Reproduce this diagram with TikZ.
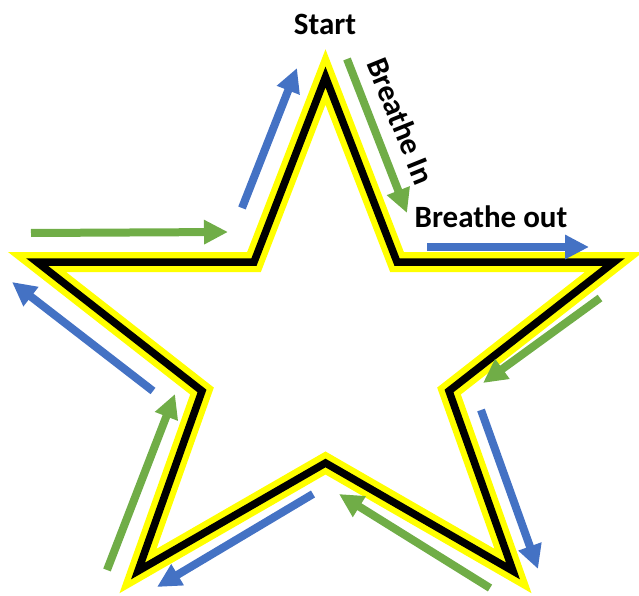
\documentclass[tikz,border=0pt]{standalone}
\usepackage{fontspec}
\setmainfont{Carlito}
\usetikzlibrary{arrows.meta}
\definecolor{ablue}{HTML}{4472C4}
\definecolor{agreen}{HTML}{70AD47}
\definecolor{syellow}{HTML}{FFFF00}
\begin{document}
\begin{tikzpicture}[x=1pt,y=-1pt,
  arr/.style={line width=8pt,-{Triangle[width=23pt,length=24pt]}},
  barr/.style={arr,draw=ablue},
  garr/.style={arr,draw=agreen},
  lbl/.style={font=\fontsize{31}{36}\selectfont\bfseries,inner sep=0pt,text=black},
  starout/.style={draw=syellow,line width=20pt,line join=miter,miter limit=20},
  starin/.style={draw=black,line width=7.5pt,line join=miter,miter limit=20}]
\useasboundingbox (0,0) rectangle (639,596);
% star vertices
\coordinate (T) at (325.5,77);
\coordinate (ITR) at (397,262);
\coordinate (R) at (614,262);
\coordinate (IR) at (449,391);
\coordinate (BR) at (513,571);
\coordinate (IB) at (325.5,463);
\coordinate (BL) at (138,571);
\coordinate (IL) at (202,391);
\coordinate (L) at (37,262);
\coordinate (ITL) at (254,262);
\draw[starout] (T) -- (ITR) -- (R) -- (IR) -- (BR) -- (IB) -- (BL) -- (IL) -- (L) -- (ITL) -- cycle;
\draw[starin] (T) -- (ITR) -- (R) -- (IR) -- (BR) -- (IB) -- (BL) -- (IL) -- (L) -- (ITL) -- cycle;
% arrow end points
\coordinate (a1s) at (242,208); \coordinate (a1e) at (297,68);
\coordinate (a2s) at (347,59);  \coordinate (a2e) at (407,213);
\coordinate (a3s) at (427,247); \coordinate (a3e) at (589,247);
\coordinate (a4s) at (600,298); \coordinate (a4e) at (483,383);
\coordinate (a5s) at (481,410); \coordinate (a5e) at (538,569);
\coordinate (a6s) at (490,588); \coordinate (a6e) at (339,494);
\coordinate (a7s) at (313,494); \coordinate (a7e) at (157,587);
\coordinate (a8s) at (107,570); \coordinate (a8e) at (175,394);
\coordinate (a9s) at (153,391); \coordinate (a9e) at (12,282);
\coordinate (a10s) at (31,233); \coordinate (a10e) at (228,232);
\draw[barr] (a1s) -- (a1e);
\draw[garr] (a2s) -- (a2e);
\draw[barr] (a3s) -- (a3e);
\draw[garr] (a4s) -- (a4e);
\draw[barr] (a5s) -- (a5e);
\draw[garr] (a6s) -- (a6e);
\draw[barr] (a7s) -- (a7e);
\draw[garr] (a8s) -- (a8e);
\draw[barr] (a9s) -- (a9e);
\draw[garr] (a10s) -- (a10e);
% labels
\node[lbl,anchor=base] (start) at (325,35) {Start};
\node[lbl,anchor=base] (bout) at (491,227) {Breathe out};
\node[lbl,rotate=-68] (bin) at (401,121) {Breathe In};
\end{tikzpicture}
\end{document}
